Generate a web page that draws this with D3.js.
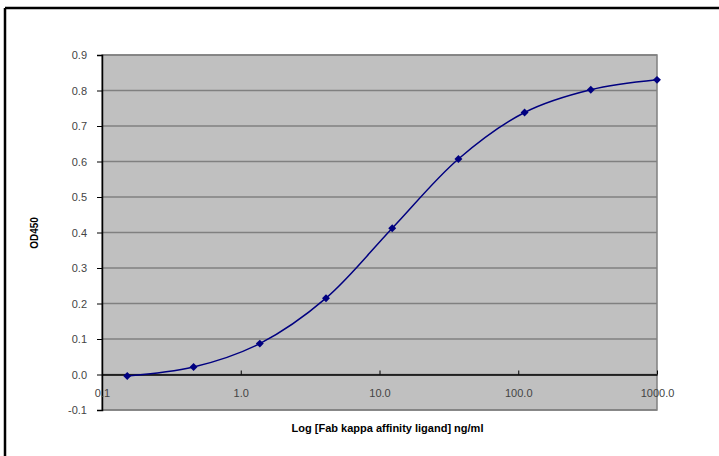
<!DOCTYPE html>
<html>
<head>
    <meta charset="utf-8">
    <title>OD450 curve</title>
    <script src="https://d3js.org/d3.v7.min.js"></script>
    <style>
        body { margin: 0; background: #fff; }
        svg { display: block; font-family: Arial, "Liberation Sans", sans-serif; }
    </style>
</head>
<body>
    <div id="chart"></div>

    <script>
        // concentrations (ng/ml), 3-fold dilutions
        var conc = [0.152, 0.457, 1.372, 4.115, 12.35, 37.04, 111.1, 333.3, 1000];
        // OD450 readings
        var od = [-0.004, 0.021, 0.087, 0.215, 0.412, 0.607, 0.738, 0.802, 0.83];
        var yTicks = [-0.1, 0, 0.1, 0.2, 0.3, 0.4, 0.5, 0.6, 0.7, 0.8, 0.9];
        var xTicks = [0.1, 1, 10, 100, 1000];

        var width = 719, height = 456;
        var plotLeft = 102, plotRight = 657, plotTop = 55, plotBottom = 410;

        // plain hyphen for negatives, like the original
        var fmt = function(d) { return d3.format(".1f")(d).replace("\u2212", "-"); };

        var svg = d3.select("#chart")
            .append("svg")
            .attr("width", width)
            .attr("height", height);

        // outer frame (only top and left edges show)
        svg.append("line").attr("x1", 5).attr("x2", 5).attr("y1", 8).attr("y2", height)
            .attr("stroke", "#000").attr("stroke-width", 2.5);
        svg.append("line").attr("x1", 5).attr("x2", width).attr("y1", 8).attr("y2", 8)
            .attr("stroke", "#000").attr("stroke-width", 2.5);

        var x = d3.scaleLog().domain([0.1, 1000]).range([plotLeft, plotRight]);
        var y = d3.scaleLinear().domain([-0.1, 0.9]).range([plotBottom, plotTop]);

        // plot area
        svg.append("rect")
            .attr("x", plotLeft).attr("y", plotTop)
            .attr("width", plotRight - plotLeft).attr("height", plotBottom - plotTop)
            .attr("fill", "#c0c0c0")
            .attr("stroke", "#808080")
            .attr("stroke-width", 1.5);

        // horizontal gridlines
        svg.selectAll(".grid")
            .data(yTicks)
            .enter().append("line")
            .attr("class", "grid")
            .attr("x1", plotLeft).attr("x2", plotRight)
            .attr("y1", function(d) { return y(d); })
            .attr("y2", function(d) { return y(d); })
            .attr("stroke", "#808080")
            .attr("stroke-width", 1.5);

        // y axis
        var yAxis = svg.append("g")
            .attr("transform", "translate(" + plotLeft + ",0)")
            .call(d3.axisLeft(y).tickValues(yTicks).tickFormat(fmt).tickSize(5).tickPadding(10));
        yAxis.select(".domain").attr("stroke", "#000").attr("stroke-width", 1.5);
        yAxis.selectAll(".tick line").attr("stroke", "#000");
        yAxis.selectAll("text").attr("fill", "#444").style("font-size", "11px");

        // x axis along y = 0
        var xAxis = svg.append("g")
            .attr("transform", "translate(0," + y(0) + ")")
            .call(d3.axisTop(x).tickValues(xTicks).tickFormat(fmt).tickSize(4).tickSizeOuter(0));
        xAxis.select(".domain").attr("stroke", "#000").attr("stroke-width", 1.5);
        xAxis.selectAll(".tick line").attr("stroke", "#000");
        xAxis.selectAll("text")
            .attr("y", 19)
            .attr("dy", "0.35em")
            .attr("fill", "#444")
            .style("font-size", "11px");

        // smoothed curve
        var line = d3.line()
            .x(function(d, i) { return x(conc[i]); })
            .y(function(d) { return y(d); })
            .curve(d3.curveCatmullRom);

        svg.append("path")
            .datum(od)
            .attr("d", line)
            .attr("fill", "none")
            .attr("stroke", "#000080")
            .attr("stroke-width", 1.5);

        svg.selectAll(".pt")
            .data(od)
            .enter().append("path")
            .attr("class", "pt")
            .attr("d", d3.symbol().type(d3.symbolDiamond2).size(40))
            .attr("transform", function(d, i) { return "translate(" + x(conc[i]) + "," + y(d) + ")"; })
            .attr("fill", "#000080");

        // axis titles
        svg.append("text")
            .attr("x", (plotLeft + plotRight) / 2 + 8)
            .attr("y", 432)
            .style("text-anchor", "middle")
            .style("font-size", "11px")
            .style("font-weight", "bold")
            .text("Log [Fab kappa affinity ligand] ng/ml");

        svg.append("text")
            .attr("transform", "translate(38,233) rotate(-90)")
            .style("text-anchor", "middle")
            .style("font-size", "10px")
            .style("font-weight", "bold")
            .text("OD450");
    </script>
</body>
</html>
